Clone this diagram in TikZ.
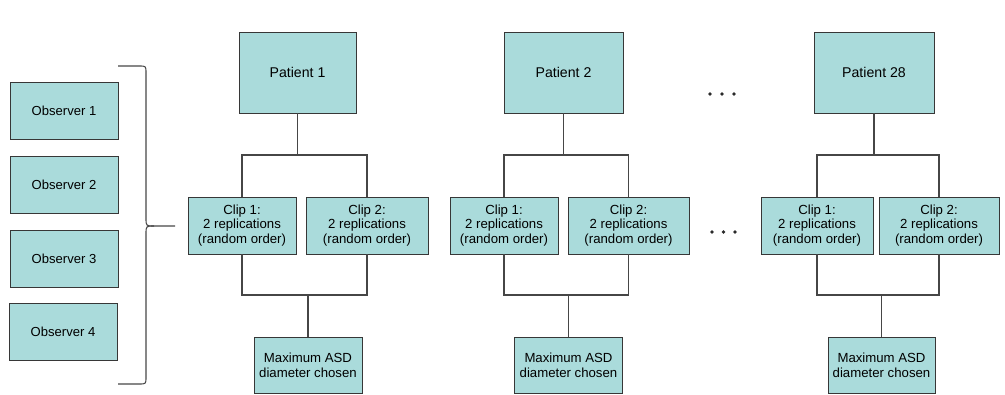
\documentclass[tikz,border=0pt]{standalone}
\usepackage{fontspec}
\setmainfont{Liberation Sans}
\usepackage{xcolor}
\usepackage{tikz}
\definecolor{boxfill}{RGB}{170,219,219}
\definecolor{boxline}{RGB}{55,55,55}
\definecolor{linkgray}{RGB}{70,70,70}
\tikzstyle{observer} = [rectangle, minimum width=81pt, minimum height=43pt, text centered, draw=boxline, fill=boxfill, font=\fontsize{9.8}{11}\selectfont]
\tikzstyle{patient} = [rectangle, minimum width=88pt, minimum height=61pt, text centered, draw=boxline, fill=boxfill, font=\fontsize{10.6}{12}\selectfont]
\tikzstyle{clip} = [rectangle, minimum width=81pt, minimum height=43pt, align=center, inner sep=1pt, draw=boxline, fill=boxfill, font=\fontsize{9.9}{10.6}\selectfont]
\tikzstyle{maxbox} = [rectangle, minimum width=81pt, minimum height=42pt, align=center, inner sep=1pt, draw=boxline, fill=boxfill, font=\fontsize{9.9}{11}\selectfont]
\tikzstyle{link} = [draw=linkgray, line width=0.9pt]

\begin{document}
\begin{tikzpicture}[x=0.75pt, y=-0.75pt]
        \useasboundingbox (0,0) rectangle (1005,395);

        % Observers
        \node (obs1) [observer] at (64,111) {Observer 1};
        \node (obs2) [observer] at (64,184.5) {Observer 2};
        \node (obs3) [observer] at (64,258.5) {Observer 3};
        \node (obs4) [observer] at (63,332) {Observer 4};

        % Brace
        \coordinate (bracetip) at (175,226);
        \draw [draw=linkgray, line width=0.8pt] (118,66) -- (139,66) .. controls (146,66) .. (146,73) -- (146,218) .. controls (146,226) .. (154,226) -- (bracetip);
        \draw [draw=linkgray, line width=0.8pt] (118,384) -- (139,384) .. controls (146,384) .. (146,377) -- (146,234) .. controls (146,226) .. (154,226);

        % Patients
        \node (patient1) [patient] at (297.5,72.5) {Patient 1};
        \node (patient2) [patient, minimum width=89pt] at (563.5,72.5) {Patient 2};
        \node (patient28) [patient, minimum width=90pt] at (874,72.5) {Patient 28};

        % Clips
        \node (clip11) [clip] at (242,225.5) {Clip 1:\\2 replications\\(random order)};
        \node (clip12) [clip, minimum width=91.5pt] at (367,225.5) {Clip 2:\\2 replications\\(random order)};
        \node (clip21) [clip] at (504,225.5) {Clip 1:\\2 replications\\(random order)};
        \node (clip22) [clip, minimum width=91pt] at (628.5,225.5) {Clip 2:\\2 replications\\(random order)};
        \node (clip281) [clip, minimum width=84pt] at (817,225.5) {Clip 1:\\2 replications\\(random order)};
        \node (clip282) [clip, minimum width=90pt] at (939,225.5) {Clip 2:\\2 replications\\(random order)};

        % Maximum ASD
        \node (max1) [maxbox] at (308,365) {Maximum ASD\\diameter chosen};
        \node (max2) [maxbox] at (568.5,365) {Maximum ASD\\diameter chosen};
        \node (max28) [maxbox, minimum width=80pt] at (881.5,365) {Maximum ASD\\diameter chosen};

        % Junctions
        \coordinate (top1) at (patient1.south |- 0,155);
        \coordinate (top2) at (patient2.south |- 0,155);
        \coordinate (top28) at (patient28.south |- 0,155);
        \coordinate (bot1) at (max1.north |- 0,295);
        \coordinate (bot2) at (max2.north |- 0,295);
        \coordinate (bot28) at (max28.north |- 0,295);

        % Links
        \draw [link] (patient1) -- (top1);
        \draw [link] (clip11.north) |- (top1) -| (clip12.north);
        \draw [link] (clip11.south) |- (bot1) -| (clip12.south);
        \draw [link] (bot1) -- (max1);

        \draw [link] (patient2) -- (top2);
        \draw [link] (clip21.north) |- (top2) -| (clip22.north);
        \draw [link] (clip21.south) |- (bot2) -| (clip22.south);
        \draw [link] (bot2) -- (max2);

        \draw [link] (patient28) -- (top28);
        \draw [link] (clip281.north) |- (top28) -| (clip282.north);
        \draw [link] (clip281.south) |- (bot28) -| (clip282.south);
        \draw [link] (bot28) -- (max28);

        % Dots
        \fill [linkgray!60!black] (710,94) circle (1.9) (722,94) circle (1.9) (734,94) circle (1.9);
        \fill [linkgray!60!black] (712,232) circle (1.9) (723.5,232) circle (1.9) (735,232) circle (1.9);
    \end{tikzpicture}
\end{document}
